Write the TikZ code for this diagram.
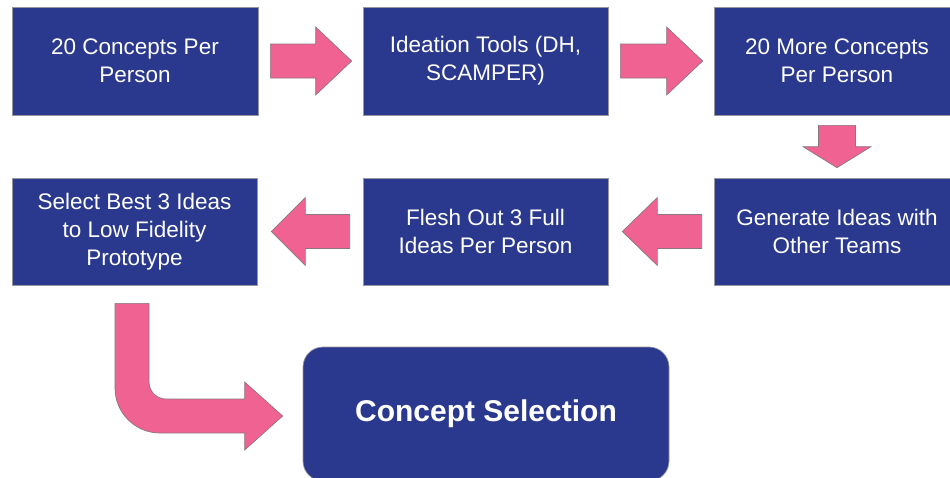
\documentclass[tikz,border=0pt]{standalone}
\usepackage{fontspec}
\setmainfont{Liberation Sans}
\usetikzlibrary{calc}

\definecolor{boxblue}{RGB}{42,57,142}
\definecolor{arrowpink}{RGB}{240,98,146}
\definecolor{arrowedge}{RGB}{140,118,128}
\definecolor{boxedge}{RGB}{150,150,160}

\tikzset{
  stepbox/.style={draw=boxedge, line width=0.7pt, fill=boxblue, text=white,
    align=center, inner sep=0pt,
    font=\fontsize{22.5}{28}\selectfont},
  finalbox/.style={draw=boxedge, line width=0.7pt, fill=boxblue, text=white,
    rounded corners=20pt, inner sep=0pt,
    font=\fontsize{30}{36}\selectfont\bfseries},
  blockarrow/.style={fill=arrowpink, draw=arrowedge, line width=0.7pt, line join=miter}
}

% horizontal block arrow: start, tip, signed head length, head half-height, shaft half-height
\newcommand\harrow[5]{%
  \path[blockarrow] let \p1=(#1), \p2=(#2) in
    (\x1,{\y2+#5}) -- ({\x2-(#3)},{\y2+#5}) -- ({\x2-(#3)},{\y2+#4}) -- (\x2,\y2)
    -- ({\x2-(#3)},{\y2-#4}) -- ({\x2-(#3)},{\y2-#5}) -- (\x1,{\y2-#5}) -- cycle;}

% downward block arrow: start, tip, head length, head half-width, shaft half-width
\newcommand\varrow[5]{%
  \path[blockarrow] let \p1=(#1), \p2=(#2) in
    ({\x2-#5},\y1) -- ({\x2-#5},{\y2+#3}) -- ({\x2-#4},{\y2+#3}) -- (\x2,\y2)
    -- ({\x2+#4},{\y2+#3}) -- ({\x2+#5},{\y2+#3}) -- ({\x2+#5},\y1) -- cycle;}

\begin{document}
\begin{tikzpicture}[x=1pt, y=-1pt]
  \useasboundingbox (0,0) rectangle (950,477);

  % first row
  \node[stepbox, minimum width=246pt, minimum height=108pt] (b1) at (135,61)
    {20 Concepts Per\\Person};
  \node[stepbox, minimum width=245pt, minimum height=108pt] (b2) at (485.5,61)
    {Ideation Tools (DH,\\SCAMPER)};
  \node[stepbox, minimum width=246pt, minimum height=108pt] (b3) at (837,61)
    {20 More Concepts\\Per Person};

  % second row
  \node[stepbox, minimum width=245pt, minimum height=107pt] (b4) at (134.5,231.5)
    {Select Best 3 Ideas\\to Low Fidelity\\Prototype};
  \node[stepbox, minimum width=245pt, minimum height=107pt] (b5) at (485.5,231.5)
    {Flesh Out 3 Full\\Ideas Per Person};
  \node[stepbox, minimum width=246pt, minimum height=107pt] (b6) at (837,231.5)
    {Generate Ideas with\\Other Teams};

  % final step
  \node[finalbox, minimum width=366pt, minimum height=134pt] (cs) at (486,414)
    {Concept Selection};

  % arrows between the steps
  \harrow{$(b1.east)+(12pt,0)$}{$(b2.west)+(-11pt,0)$}{36pt}{34pt}{17pt}
  \harrow{$(b2.east)+(12pt,0)$}{$(b3.west)+(-11pt,0)$}{36pt}{34pt}{17pt}
  \varrow{$(b3.south)+(0,-10pt)$}{$(b6.north)+(0,10pt)$}{21pt}{34pt}{18.5pt}
  \harrow{$(b6.west)+(-12pt,0)$}{$(b5.east)+(14pt,0)$}{-35pt}{34pt}{17pt}
  \harrow{$(b5.west)+(-13pt,0)$}{$(b4.east)+(14pt,0)$}{-34pt}{34pt}{17pt}

  % bent arrow from the last row down to the final step
  \path[blockarrow] let \p1=($(b4.south)+(-2.5pt,-18pt)$), \p2=($(cs.west)+(-20pt,-2pt)$) in
    ({\x1+17pt},\y1) -- ({\x1+17pt},{\y2+34pt}) arc[start angle=180, end angle=270, radius=17pt]
    -- ({\x2-38pt},{\y2+17pt}) -- ({\x2-38pt},{\y2+34pt}) -- (\x2,\y2)
    -- ({\x2-38pt},{\y2-34pt}) -- ({\x2-38pt},{\y2-17pt})
    -- ({\x1+28pt},{\y2-17pt}) arc[start angle=270, end angle=180, radius=45pt]
    -- ({\x1-17pt},\y1) -- cycle;
\end{tikzpicture}
\end{document}
